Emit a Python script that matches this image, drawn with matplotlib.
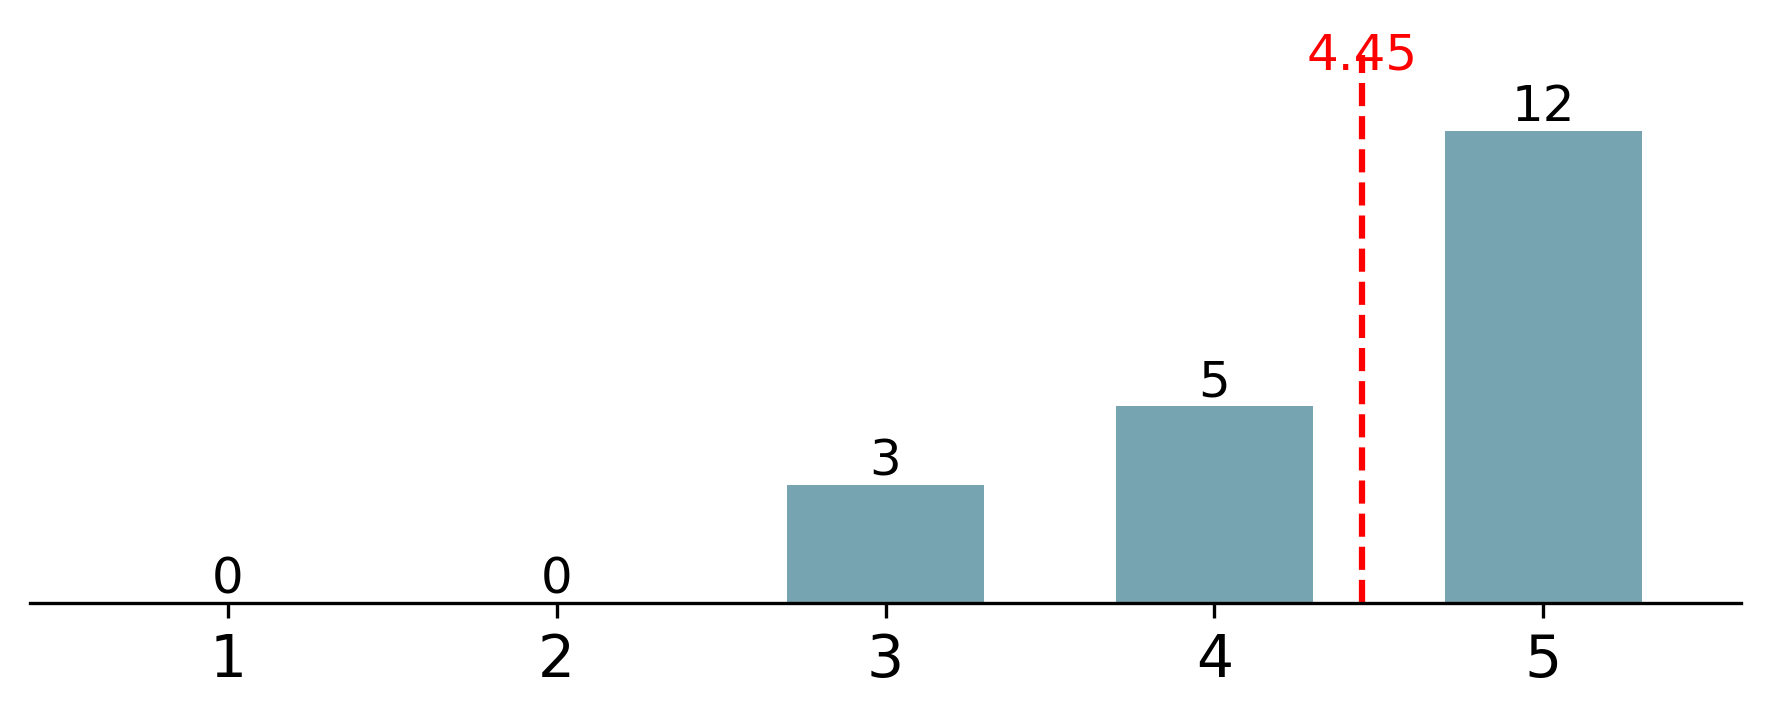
import matplotlib
matplotlib.use("Agg")
import matplotlib.pyplot as plt

# ratings histogram with mean marker
ratings = [1, 2, 3, 4, 5]
counts = [0, 0, 3, 5, 12]
mean_rating = 4.45

BAR_COLOR = "#76a4b0"


def main():
    fig = plt.figure(figsize=(5.9, 2.3967), dpi=300)
    ax = fig.add_axes([0.0172, 0.161, 0.9662, 0.7622])

    bars = ax.bar(ratings, counts, width=0.6, color=BAR_COLOR)
    ax.bar_label(bars, labels=[str(c) for c in counts], fontsize=12)

    top = max(counts) * 1.16
    ax.set_ylim(0, top)
    ax.set_xlim(0.4, 5.6)

    ax.axvline(mean_rating, color="red", linestyle="--", linewidth=1.5)
    ax.text(mean_rating, top, f"{mean_rating:.2f}", color="red",
            fontsize=12, ha="center", va="center")

    ax.set_xticks(ratings)
    ax.set_xticklabels([str(r) for r in ratings], fontsize=14)
    ax.set_yticks([])
    for side in ["left", "right", "top"]:
        ax.spines[side].set_visible(False)

    fig.savefig("out.png", dpi=300)
    plt.close(fig)


if __name__ == "__main__":
    main()
